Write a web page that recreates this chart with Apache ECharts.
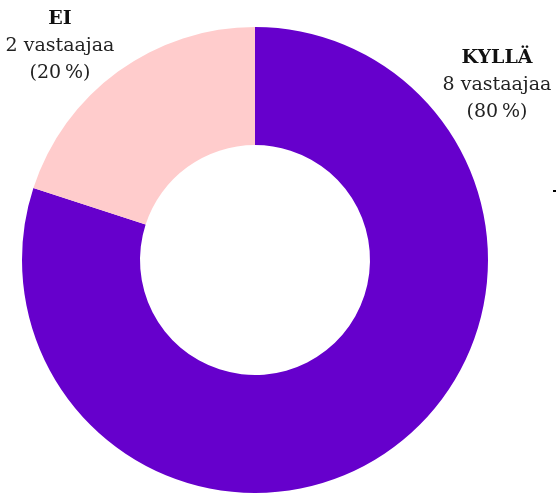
<!DOCTYPE html>
<html>
<head>
<meta charset="utf-8">
<script src="https://cdn.jsdelivr.net/npm/echarts@6/dist/echarts.min.js"></script>
<style>
html,body{margin:0;padding:0;background:#fff;}
#main{width:557px;height:494px;}
</style>
</head>
<body>
<div id="main"></div>
<script>
var names = ['KYLLÄ', 'EI'];
var counts = [8, 2];
var percents = [80, 20];
var colors = ['#6600cc', '#ffcccc'];
// label anchor spots (centre of text block)
var labelSpots = [[497, 58], [60, 19]];

var chart = echarts.init(document.getElementById('main'));
var option = {
    backgroundColor: '#ffffff',
    animation: false,
    graphic: [{
        type: 'rect',
        shape: {x: 553, y: 190, width: 3, height: 2},
        style: {fill: '#000'}
    }],
    series: [{
        type: 'pie',
        center: [255, 260],
        radius: [115, 233],
        startAngle: 90,
        clockwise: true,
        data: names.map(function (n, i) {
            return {value: counts[i], name: n, itemStyle: {color: colors[i]}};
        }),
        label: {
            show: true,
            position: 'outside',
            overflow: 'none',
            formatter: function (p) {
                var i = p.dataIndex;
                return '{b|' + names[i] + '}\n' + counts[i] + ' vastaajaa\n(' + percents[i] + '\u2009%)';
            },
            fontFamily: 'DejaVu Serif',
            fontSize: 19,
            lineHeight: 27,
            color: '#222',
            align: 'center',
            verticalAlign: 'top',
            rich: {
                b: {fontWeight: 'bold', fontSize: 19, lineHeight: 27, fontFamily: 'DejaVu Serif', color: '#111'}
            }
        },
        labelLine: {show: false},
        labelLayout: function (p) {
            var s = labelSpots[p.dataIndex];
            return {x: s[0], y: s[1] - 13, align: 'center', verticalAlign: 'top'};
        },
        emphasis: {disabled: true}
    }]
};
chart.setOption(option);
</script>
</body>
</html>
